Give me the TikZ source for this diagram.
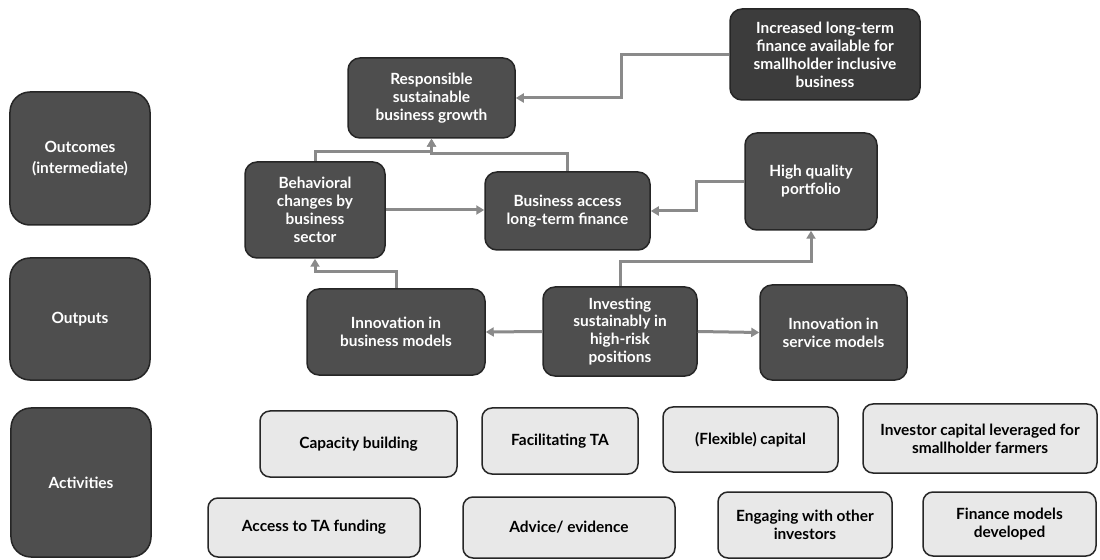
\documentclass[tikz,border=0pt]{standalone}
\usepackage{fontspec}
\setmainfont{Lato}
\usetikzlibrary{arrows.meta}
\definecolor{boxdark}{HTML}{4E4E4E}
\definecolor{boxdarker}{HTML}{3C3C3C}
\definecolor{boxedge}{HTML}{262626}
\definecolor{boxlight}{HTML}{E8E8E8}
\definecolor{linkgray}{HTML}{8A8A8A}
\tikzset{
  darkbox/.style={draw=boxedge, line width=1.5bp, fill=boxdark, rounded corners=12bp,
    text=white, align=center, inner sep=2bp,
    font=\bfseries\fontsize{15.5}{18}\selectfont},
  levelbox/.style={darkbox, rounded corners=20bp, minimum width=140bp,
    font=\bfseries\fontsize{15.5}{21}\selectfont},
  lightbox/.style={draw=boxedge, line width=1.5bp, fill=boxlight, rounded corners=10bp,
    text=black, align=center, inner sep=2bp,
    font=\bfseries\fontsize{15.5}{18}\selectfont},
  conn/.style={draw=linkgray, line width=3bp,
    -{Triangle[length=8bp,width=9bp]}}
}
\begin{document}
\begin{tikzpicture}[x=1bp,y=-1bp]
\fill[white] (0,0) rectangle (1100,560);
\useasboundingbox (0,0) rectangle (1100,560);

% level labels
\node[levelbox, minimum height=133bp] (lvout) at (80,158.5) {Outcomes\\(intermediate)};
\node[levelbox, minimum height=122bp] (lvoutp) at (80,319) {Outputs};
\node[levelbox, minimum height=149bp] (lvact) at (81,482.5) {Activities};

% outcomes
\node[darkbox, minimum width=167bp, minimum height=80bp] (resp) at (431.5,98)
  {Responsible\\sustainable\\business growth};
\node[darkbox, fill=boxdarker, minimum width=190bp, minimum height=91bp] (incr) at (825,54.5)
  {Increased long-term\\finance available for\\smallholder inclusive\\business};
\node[darkbox, minimum width=140bp, minimum height=96bp] (behav) at (315,210)
  {Behavioral\\changes by\\business\\sector};
\node[darkbox, minimum width=165bp, minimum height=78bp] (bacc) at (567.5,211)
  {Business access\\long-term finance};
\node[darkbox, minimum width=132bp, minimum height=97bp] (hq) at (811,181.5)
  {High quality\\portfolio};

% outputs
\node[darkbox, minimum width=178bp, minimum height=86bp] (innb) at (396,332)
  {Innovation in\\business models};
\node[darkbox, minimum width=154bp, minimum height=89bp] (inv) at (620,331.5)
  {Investing\\sustainably in\\high-risk\\positions};
\node[darkbox, minimum width=147bp, minimum height=95bp] (inns) at (833.5,332.5)
  {Innovation in\\service models};

% activities
\node[lightbox, minimum width=197bp, minimum height=66bp] (cap) at (358.5,444) {Capacity building};
\node[lightbox, minimum width=156bp, minimum height=66bp] (fac) at (560,441) {Facilitating TA};
\node[lightbox, minimum width=175bp, minimum height=65bp] (flex) at (750.5,439.5) {(Flexible) capital};
\node[lightbox, minimum width=234bp, minimum height=69bp] (invc) at (980,438.5)
  {Investor capital leveraged for\\smallholder farmers};
\node[lightbox, minimum width=212bp, minimum height=59bp] (acc) at (314,527.5) {Access to TA funding};
\node[lightbox, minimum width=212bp, minimum height=61bp] (adv) at (569,527.5) {Advice/ evidence};
\node[lightbox, minimum width=174bp, minimum height=66bp] (eng) at (805,525)
  {Engaging with other\\investors};
\node[lightbox, minimum width=173bp, minimum height=64bp] (fin) at (1009.5,524)
  {Finance models\\developed};

% connectors
\draw[conn] (incr.west) -- ++(-108,0) |- (resp.east);
\draw[conn] (behav.north) -- ++(0,-10) -| (resp.south);
\draw[conn] (bacc.north) -- ++(0,-18) -| (resp.south);
\draw[conn] (behav.east) -- (behav.east -| bacc.west);
\draw[conn] (hq.west) -- ++(-48,0) |- (bacc.east);
\draw[conn] (inv.north) -- ++(0,-25) -| (hq.south);
\draw[conn] (innb.north) -- ++(0,-17) -| (behav.south);
\draw[conn] (inv.west) -- (innb.east);
\draw[conn] (inv.east) -- (inns.west);
\end{tikzpicture}
\end{document}
